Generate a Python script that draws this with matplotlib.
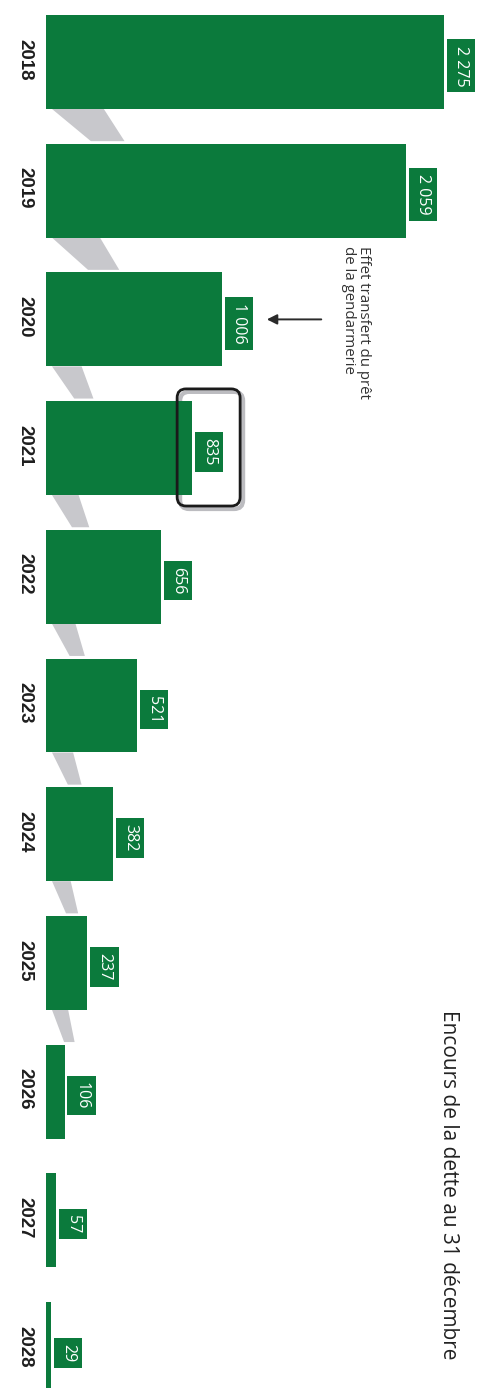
import numpy as np
import matplotlib
matplotlib.use("Agg")
import matplotlib.pyplot as plt
from matplotlib.patches import Polygon, FancyBboxPatch
from matplotlib.transforms import blended_transform_factory

# encours de la dette au 31 decembre (M EUR)
years = ["2018", "2019", "2020", "2021", "2022", "2023",
         "2024", "2025", "2026", "2027", "2028"]
encours = [2275, 2059, 1006, 835, 656, 521, 382, 237, 106, 57, 29]
value_labels = ["2 275", "2 059", "1 006", "835", "656", "521",
                "382", "237", "106", "57", "29"]
title = "Encours de la dette au 31 décembre"
note = "Effet transfert du prêt\nde la gendarmerie"

green = "#0b7a3c"
shadow = "#c8c8cc"

W, H = 480, 1388
fig = plt.figure(figsize=(W / 100, H / 100), dpi=100)
ax_left = 46
ax = fig.add_axes([ax_left / W, 0, 1 - ax_left / W, 1])

px_per_unit = 0.175          # horizontal pixels per M EUR
row = 128.7                  # pixels between two bars
first = 62                   # centre of the first bar, px from top
xmax = (W - ax_left) / px_per_unit
ax.set_xlim(0, xmax)
ax.set_ylim((H - first) / row, -first / row)
ax.axis("off")

pos = np.arange(len(years))
bar_h = 0.73
ax.barh(pos, encours, height=bar_h, color=green, zorder=3)

# grey drop shadows under the bars, tapering towards the next bar
for i, v in enumerate(encours[:-1]):
    if v < 200:
        continue
    w = (0.10 * v * px_per_unit + 12) / px_per_unit
    x0 = 6 / px_per_unit
    y0 = i + bar_h / 2
    y1 = i + 1 - bar_h / 2 - 0.02
    pts = [(x0, y0), (x0 + w, y0), (x0 + w * 1.4, y1), (x0 + w * 0.75, y1)]
    ax.add_patch(Polygon(pts, closed=True, color=shadow, lw=0, zorder=1))

# value labels in green boxes
gap = 9 / px_per_unit
for i, (v, lab) in enumerate(zip(encours, value_labels)):
    ax.text(v + gap, i + 0.03, lab, rotation=-90, ha="left", va="center",
            color="white", fontsize=11.5, family="Open Sans",
            bbox=dict(boxstyle="square,pad=0.38", fc=green, ec="none"),
            zorder=4)

# year labels on the left
tr = blended_transform_factory(fig.transFigure, ax.transData)
for i, y in enumerate(years):
    ax.text(25 / W, i - 0.02, y, transform=tr, rotation=-90,
            ha="center", va="center", fontsize=13.5, fontweight="bold",
            family="Liberation Sans", color="#1e1e1e")

# annotation for 2020
i20 = years.index("2020")
tip = encours[i20] + 42 / px_per_unit
ax.annotate("", xy=(tip, i20), xytext=(tip + 60 / px_per_unit, i20),
            arrowprops=dict(arrowstyle="-|>", color="#2a2a2a", lw=1.4,
                            mutation_scale=15), zorder=5)
ax.text(tip + 92 / px_per_unit, i20 - 0.57, note, rotation=-90,
        ha="center", va="top", multialignment="left", fontsize=10.8,
        family="Open Sans", color="#333333", linespacing=1.05)

# highlight box around 2021
i21 = years.index("2021")
x0 = encours[i21] - 15 / px_per_unit
bw = 63 / px_per_unit
asp = px_per_unit / row
for dx, dy, col, lw, z in [(3 / px_per_unit, 3 / row, "#bcbcc0", 3.0, 2),
                           (0, 0, "#1a1a1a", 2.0, 6)]:
    box = FancyBboxPatch((x0 + dx, i21 - 0.46 + dy), bw, 0.91,
                         boxstyle="round,pad=0,rounding_size=%f" % (9 / px_per_unit),
                         mutation_aspect=asp, fc="none", ec=col, lw=lw, zorder=z)
    ax.add_patch(box)

fig.text(448 / W, 1 - 1010 / H, title, rotation=-90, ha="center", va="top",
         fontsize=15, family="Open Sans", color="#222222")

fig.savefig("out.png", dpi=100, facecolor="white")
